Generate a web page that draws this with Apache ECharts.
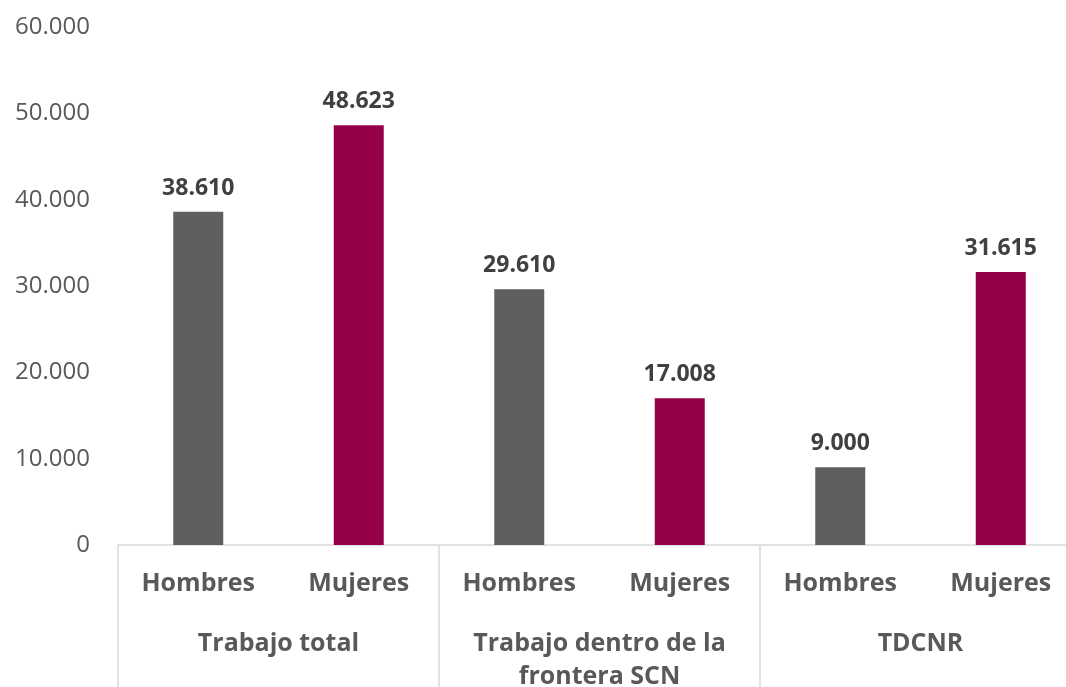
<!DOCTYPE html>
<html>
<head>
<meta charset="utf-8">
<script src="https://cdn.jsdelivr.net/npm/echarts@6/dist/echarts.min.js"></script>
<style>
  html, body { margin: 0; padding: 0; background: #fff; }
  #main { width: 1066px; height: 687px; }
</style>
</head>
<body>
<div id="main"></div>
<script>
// datos del gráfico
var grupos = ['Trabajo total', 'Trabajo dentro de la\nfrontera SCN', 'TDCNR'];
var sexos = ['Hombres', 'Mujeres'];
var hombres = [38610, 29610, 9000];
var mujeres = [48623, 17008, 31615];
var yTicks = [0, 10000, 20000, 30000, 40000, 50000, 60000];

var colores = ['#5f5f5f', '#960048'];
var fuente = '"Open Sans", "Noto Sans", sans-serif';

// categorías de primer nivel y valores intercalados
var categorias = [];
var valores = [];
for (var i = 0; i < grupos.length; i++) {
  categorias.push(sexos[0], sexos[1]);
  valores.push(hombres[i], mujeres[i]);
}

function miles(v) {
  return String(v).replace(/\B(?=(\d{3})+(?!\d))/g, '.');
}

var myChart = echarts.init(document.getElementById('main'));
var option = {
  animation: false,
  grid: { left: 118, top: 27, width: 963, bottom: 142, containLabel: false, outerBoundsMode: 'none' },
  xAxis: [
    {
      type: 'category',
      data: categorias,
      position: 'bottom',
      axisLine: { lineStyle: { color: '#d9d9d9', width: 1.5 } },
      axisTick: { show: false },
      axisLabel: {
        interval: 0, margin: 26,
        fontFamily: fuente, fontSize: 25, fontWeight: 'bold', color: '#595959'
      }
    },
    {
      type: 'category',
      data: grupos,
      position: 'bottom',
      axisLine: { show: false },
      axisTick: { show: true, interval: 0, length: 150, lineStyle: { color: '#d9d9d9', width: 1.5 } },
      axisLabel: {
        interval: 0, margin: 82, lineHeight: 33,
        fontFamily: fuente, fontSize: 25, fontWeight: 'bold', color: '#595959'
      }
    }
  ],
  yAxis: {
    type: 'value',
    min: yTicks[0],
    max: yTicks[yTicks.length - 1],
    interval: 10000,
    axisLine: { show: false },
    axisTick: { show: false },
    splitLine: { show: false },
    axisLabel: {
      margin: 28,
      fontFamily: fuente, fontSize: 24, color: '#595959',
      formatter: function (v) { return miles(v); }
    }
  },
  series: [{
    type: 'bar',
    xAxisIndex: 0,
    data: valores,
    barWidth: 50,
    itemStyle: {
      color: function (p) { return colores[p.dataIndex % 2]; }
    },
    label: {
      show: true, position: 'top', distance: 12,
      fontFamily: fuente, fontSize: 23, fontWeight: 'bold', color: '#404040',
      formatter: function (p) { return miles(p.value); }
    }
  }]
};
myChart.setOption(option);
</script>
</body>
</html>
